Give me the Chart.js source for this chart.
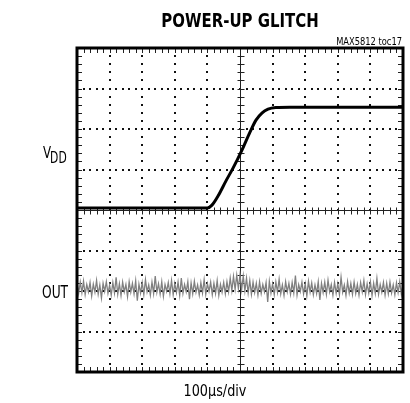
<!DOCTYPE html>
<html>
<head>
<meta charset="utf-8">
<script src="https://cdn.jsdelivr.net/npm/chart.js@4/dist/chart.umd.min.js"></script>
<style>
html,body{margin:0;padding:0;background:#fff;}
canvas{display:block;}
</style>
</head>
<body>
<canvas id="c" width="410" height="403"></canvas>
<script>
// Time axis: 0..1000 us (100 us/div, 10 divisions); vertical axis in divisions (-4..4)
const titleText = "POWER-UP GLITCH";
const noteText = "MAX5812 toc17";
const xAxisText = "100\u00B5s/div";
const vddMain = "V";
const vddSub = "DD";
const outText = "OUT";

const vddTimes = [0, 400, 414, 433, 457, 479, 506, 531, 549, 568, 586, 610, 653, 1000];
const vddValues = [0.05, 0.05, 0.12, 0.35, 0.72, 1.04, 1.48, 1.93, 2.22, 2.40, 2.49, 2.53, 2.54, 2.54];

const outStepUs = 5;
const outValues = [
-1.80,-2.06,-1.78,-2.04,-1.76,-2.09,-1.84,-2.02,-1.79,-2.12,
-1.83,-2.03,-1.74,-2.08,-1.85,-2.17,-1.81,-2.01,-1.77,-2.06,
-1.86,-2.10,-1.79,-2.05,-1.66,-2.08,-1.82,-2.11,-1.78,-2.02,
-1.84,-2.14,-1.77,-2.03,-1.81,-2.07,-1.75,-2.24,-1.83,-2.05,
-1.79,-2.09,-1.72,-2.02,-1.85,-2.10,-1.78,-2.06,-1.63,-2.03,
-1.82,-2.08,-1.77,-2.13,-1.84,-2.01,-1.79,-2.07,-1.74,-2.09,
-1.81,-2.04,-1.78,-2.11,-1.68,-2.06,-1.84,-2.02,-1.77,-2.20,
-1.80,-2.07,-1.76,-2.03,-1.85,-2.10,-1.79,-2.05,-1.72,-2.08,
-1.82,-2.01,-1.78,-2.09,-1.81,-2.06,-1.74,-2.11,-1.84,-2.03,
-1.79,-2.07,-1.77,-2.02,-1.68,-1.99,-1.64,-1.96,-1.61,-1.94,
-1.60,-1.97,-1.63,-2.00,-1.68,-2.05,-1.74,-2.08,-1.78,-2.04,
-1.81,-2.10,-1.77,-2.06,-1.84,-2.02,-1.79,-2.27,-1.76,-2.05,
-1.82,-2.09,-1.78,-2.03,-1.71,-2.07,-1.85,-2.11,-1.77,-2.02,
-1.81,-2.08,-1.79,-2.05,-1.62,-2.10,-1.84,-2.01,-1.78,-2.07,
-1.82,-2.12,-1.76,-2.03,-1.80,-2.09,-1.85,-2.06,-1.77,-2.22,
-1.81,-2.04,-1.78,-2.08,-1.73,-2.02,-1.84,-2.10,-1.79,-2.06,
-1.82,-2.09,-1.66,-2.03,-1.85,-2.11,-1.77,-2.05,-1.81,-2.08,
-1.78,-2.06,-1.84,-2.10,-1.79,-2.02,-1.74,-2.09,-1.82,-2.05,
-1.77,-2.11,-1.81,-2.06,-1.69,-2.08,-1.84,-2.03,-1.79,-2.10,
-1.81,-2.07,-1.78,-2.05,-1.85,-2.09,-1.80,-2.04,-1.77,-2.08,-1.83
];

const vddData = vddTimes.map((t, i) => ({x: t, y: vddValues[i]}));
const outData = outValues.map((v, i) => ({x: i * outStepUs, y: v}));

const narrow = '"Liberation Sans Narrow", "DejaVu Sans Condensed", sans-serif';

function drawText(ctx, text, x, y, font, align, sx) {
  ctx.save();
  ctx.font = font;
  ctx.textAlign = align;
  ctx.translate(x, y);
  ctx.scale(sx, 1);
  ctx.fillText(text, 0, 0);
  ctx.restore();
}

const scopeGrid = {
  id: 'scopeGrid',
  beforeDatasetsDraw(chart) {
    const ctx = chart.ctx, xs = chart.scales.x, ys = chart.scales.y;
    const a = chart.chartArea;
    ctx.save();
    ctx.fillStyle = '#111';
    for (let d = 1; d <= 9; d++) {
      if (d === 5) continue;
      const px = Math.round(xs.getPixelForValue(d * 100));
      for (let m = -20; m <= 20; m++) {
        const py = ys.getPixelForValue(m / 5);
        ctx.fillRect(px - 1, Math.round(py) - 1, 2, 2);
      }
    }
    for (let d = -3; d <= 3; d++) {
      if (d === 0) continue;
      const py = Math.round(ys.getPixelForValue(d));
      for (let m = 0; m <= 50; m++) {
        const px = xs.getPixelForValue(m * 20);
        ctx.fillRect(Math.round(px) - 1, py - 1, 2, 2);
      }
    }
    const cx = Math.round(xs.getPixelForValue(500)) + 0.5;
    const cy = Math.round(ys.getPixelForValue(0)) + 0.5;
    ctx.strokeStyle = '#222';
    ctx.lineWidth = 1;
    ctx.beginPath();
    ctx.moveTo(cx, a.top); ctx.lineTo(cx, a.bottom);
    ctx.moveTo(a.left, cy); ctx.lineTo(a.right, cy);
    for (let m = -20; m <= 20; m++) {
      const py = Math.round(ys.getPixelForValue(m / 5)) + 0.5;
      ctx.moveTo(cx - 3, py); ctx.lineTo(cx + 4, py);
    }
    for (let m = 0; m <= 50; m++) {
      const px = Math.round(xs.getPixelForValue(m * 20)) + 0.5;
      ctx.moveTo(px, cy - 3); ctx.lineTo(px, cy + 4);
    }
    ctx.stroke();
    ctx.beginPath();
    for (let m = 0; m <= 50; m++) {
      const px = Math.round(xs.getPixelForValue(m * 20)) + 0.5;
      ctx.moveTo(px, a.top); ctx.lineTo(px, a.top + 5);
      ctx.moveTo(px, a.bottom); ctx.lineTo(px, a.bottom - 5);
    }
    for (let m = -20; m <= 20; m++) {
      const py = Math.round(ys.getPixelForValue(m / 5)) + 0.5;
      ctx.moveTo(a.left, py); ctx.lineTo(a.left + 5, py);
      ctx.moveTo(a.right, py); ctx.lineTo(a.right - 5, py);
    }
    ctx.stroke();
    ctx.restore();
  },
  afterDatasetsDraw(chart) {
    const ctx = chart.ctx, a = chart.chartArea;
    ctx.save();
    ctx.strokeStyle = '#000';
    ctx.lineWidth = 3;
    ctx.strokeRect(a.left, a.top, a.right - a.left, a.bottom - a.top);
    ctx.restore();
  },
  afterDraw(chart) {
    const ctx = chart.ctx;
    ctx.save();
    ctx.fillStyle = '#000';
    ctx.textBaseline = 'alphabetic';
    drawText(ctx, titleText, 240, 27, 'bold 20px ' + narrow, 'center', 0.83);
    drawText(ctx, noteText, 402, 45, '11px ' + narrow, 'right', 0.84);
    ctx.font = '16px ' + narrow;
    const w = ctx.measureText(vddMain).width * 0.82;
    drawText(ctx, vddMain, 43, 158, '16px ' + narrow, 'left', 0.82);
    drawText(ctx, vddSub, 43 + w - 1, 163, '15px ' + narrow, 'left', 0.8);
    drawText(ctx, outText, 42, 298, '17px ' + narrow, 'left', 0.8);
    drawText(ctx, xAxisText, 215, 396, '15px ' + narrow, 'center', 0.95);
    ctx.restore();
  }
};

new Chart(document.getElementById('c'), {
  type: 'line',
  data: {
    datasets: [
      {label: 'OUT', data: outData, borderColor: '#808080', borderWidth: 1.3, pointRadius: 0, tension: 0},
      {label: 'VDD', data: vddData, borderColor: '#000', borderWidth: 3, pointRadius: 0, cubicInterpolationMode: 'monotone'}
    ]
  },
  options: {
    responsive: false,
    animation: false,
    layout: {padding: {left: 77, right: 7, top: 48, bottom: 31}},
    plugins: {legend: {display: false}, title: {display: false}, tooltip: {enabled: false}},
    scales: {
      x: {type: 'linear', min: 0, max: 1000, display: false},
      y: {type: 'linear', min: -4, max: 4, display: false}
    }
  },
  plugins: [scopeGrid]
});
</script>
</body>
</html>
